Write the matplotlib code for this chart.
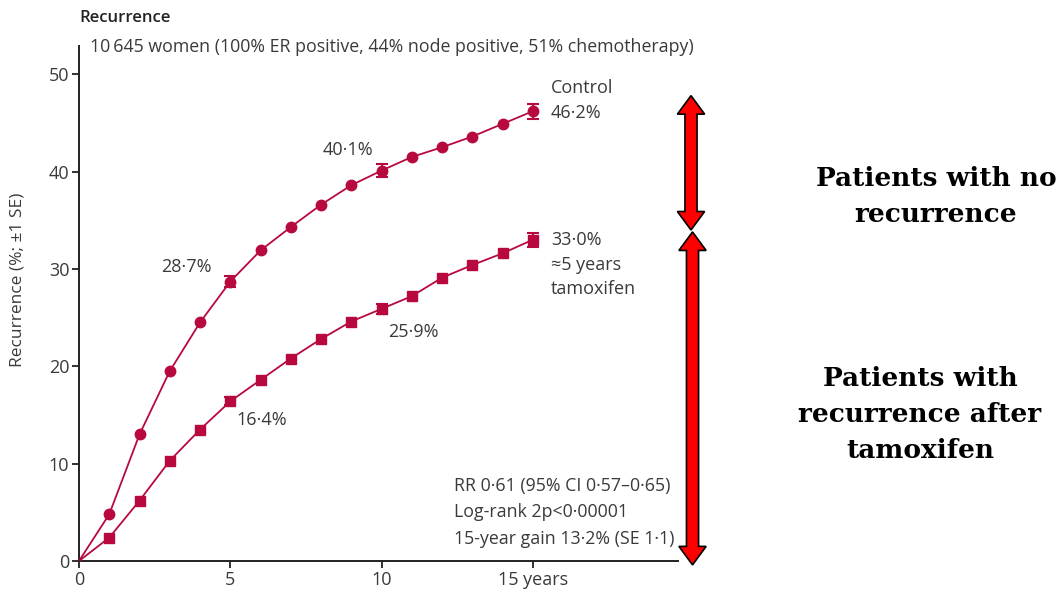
import numpy as np
import matplotlib.pyplot as plt
from matplotlib.patches import Polygon

# Data
years = [0, 1, 2, 3, 4, 5, 6, 7, 8, 9, 10, 11, 12, 13, 14, 15]
control = [0, 4.8, 13.0, 19.5, 24.5, 28.7, 31.9, 34.3, 36.6, 38.6, 40.1, 41.5, 42.5, 43.6, 44.9, 46.2]
tamoxifen = [0, 2.4, 6.2, 10.3, 13.5, 16.4, 18.6, 20.8, 22.8, 24.6, 25.9, 27.2, 29.1, 30.4, 31.6, 33.0]

# error bars (±1 SE) shown at 5, 10, 15 years
se_years = [5, 10, 15]
control_se = [0.6, 0.7, 0.75]
tamoxifen_se = [0.4, 0.55, 0.7]

x_ticks = [0, 5, 10, 15]
x_ticklabels = ['0', '5', '10', '15 years']
y_ticks = [0, 10, 20, 30, 40, 50]

red = '#b8093f'
txt = '#3a3a3a'
plt.rcParams['font.family'] = ['Open Sans', 'DejaVu Sans']

fig = plt.figure(figsize=(10.57, 5.92), dpi=100)
ax = fig.add_axes([79 / 1057, 1 - 561 / 592, (678 - 79) / 1057, (561 - 46) / 592])

ax.plot(years, control, color=red, lw=1.3, marker='o', ms=7.5, markevery=list(range(1, 16)), zorder=3)
ax.plot(years, tamoxifen, color=red, lw=1.3, marker='s', ms=7.5, markevery=list(range(1, 16)), zorder=3)

ctrl_pts = [control[years.index(y)] for y in se_years]
tam_pts = [tamoxifen[years.index(y)] for y in se_years]
ax.errorbar(se_years, ctrl_pts, yerr=control_se, fmt='none', ecolor=red, elinewidth=1.5, capsize=4, capthick=1.5, zorder=4)
ax.errorbar(se_years, tam_pts, yerr=tamoxifen_se, fmt='none', ecolor=red, elinewidth=1.5, capsize=4, capthick=1.5, zorder=4)

ax.set_xlim(0, 19.8)
ax.set_ylim(0, 52.9)
ax.set_xticks(x_ticks)
ax.set_xticklabels(x_ticklabels)
ax.set_yticks(y_ticks)
ax.tick_params(direction='out', length=5, width=1.3, colors='#222222', labelcolor=txt, labelsize=13, pad=2)
for s in ['top', 'right']:
    ax.spines[s].set_visible(False)
for s in ['left', 'bottom']:
    ax.spines[s].set_linewidth(1.4)
    ax.spines[s].set_color('#222222')

fig.text(18 / 1057, 1 - 280 / 592, 'Recurrence (%; ±1 SE)', rotation=90, ha='center', va='center', fontsize=12.5, color=txt)
fig.text(79 / 1057, 1 - 18 / 592, 'Recurrence', ha='left', va='center', fontsize=12, color='#222222', fontweight='semibold')
fig.text(90 / 1057, 1 - 47 / 592, '10\u2009645 women (100% ER positive, 44% node positive, 51% chemotherapy)',
         ha='left', va='center', fontsize=12.8, color=txt)

fs = 13
ax.text(15.6, 48.6, 'Control', fontsize=fs, color=txt, va='center')
ax.text(15.6, 46.0, '46·2%', fontsize=fs, color=txt, va='center')
ax.text(15.6, 33.0, '33·0%', fontsize=fs, color=txt, va='center')
ax.text(15.6, 30.4, '≈5 years', fontsize=fs, color=txt, va='center')
ax.text(15.6, 27.9, 'tamoxifen', fontsize=fs, color=txt, va='center')
ax.text(8.9, 42.2, '40·1%', fontsize=fs, color=txt, va='center', ha='center')
ax.text(3.55, 30.2, '28·7%', fontsize=fs, color=txt, va='center', ha='center')
ax.text(6.05, 14.5, '16·4%', fontsize=fs, color=txt, va='center', ha='center')
ax.text(11.05, 23.5, '25·9%', fontsize=fs, color=txt, va='center', ha='center')
ax.text(12.4, 5.0, 'RR 0·61 (95% CI 0·57–0·65)\nLog-rank 2p<0·00001\n15-year gain 13·2% (SE 1·1)',
        fontsize=12.8, color=txt, va='center', ha='left', linespacing=1.6)


def double_arrow(x, y0, y1):
    # outlined double-headed arrow, sizes in data units
    sw, hw, hl = 0.2, 0.45, 1.9
    pts = [(x, y1), (x + hw, y1 - hl), (x + sw, y1 - hl), (x + sw, y0 + hl), (x + hw, y0 + hl),
           (x, y0), (x - hw, y0 + hl), (x - sw, y0 + hl), (x - sw, y1 - hl), (x - hw, y1 - hl)]
    ax.add_patch(Polygon(pts, closed=True, facecolor='#ff0000', edgecolor='black', lw=1.2, clip_on=False, zorder=5))


double_arrow(20.23, 34.0, 47.8)
double_arrow(20.28, -0.4, 33.8)

fig.text(936 / 1057, 1 - 196 / 592, 'Patients with no\nrecurrence', ha='center', va='center', fontsize=19,
         family='DejaVu Serif', fontweight='bold', linespacing=1.55)
fig.text(920 / 1057, 1 - 414 / 592, 'Patients with\nrecurrence after\ntamoxifen', ha='center', va='center', fontsize=19,
         family='DejaVu Serif', fontweight='bold', linespacing=1.55)

fig.savefig('out.png', dpi=100)
